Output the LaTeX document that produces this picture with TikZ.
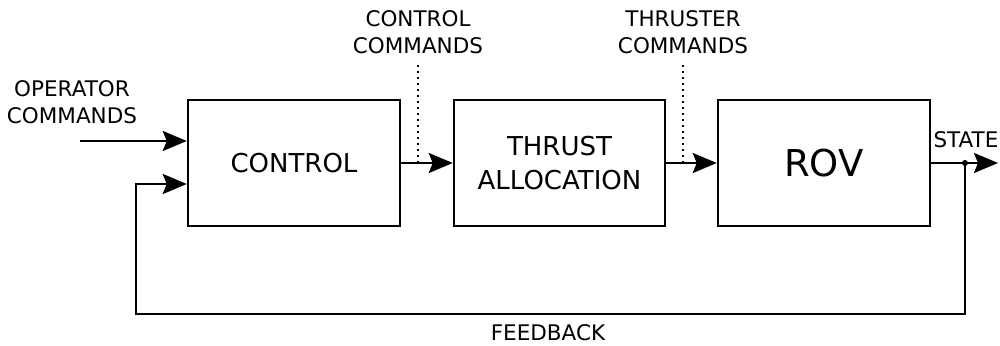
\documentclass[tikz,border=0pt]{standalone}
\usepackage{fontspec}
\setmainfont{DejaVu Sans}
\usetikzlibrary{arrows.meta}

\begin{document}
\begin{tikzpicture}[x=1pt, y=1pt, >={Stealth[length=24pt, width=20pt, inset=4pt]}]
	\tikzstyle{block}=[draw=black, line width=2.5pt, minimum width=212pt, minimum height=126pt, inner sep=0pt, align=center];
	\tikzstyle{lbl}=[font=\fontsize{21.5}{26.5}\selectfont, align=center, inner sep=0pt];
	\tikzstyle{flow}=[line width=2.5pt, ->];

	\useasboundingbox (0, 0) rectangle (1000, 345);

	\node (ctrl) at (294, 182) [block, font=\fontsize{26}{34}\selectfont] {CONTROL};
	\node (alloc) at (559.5, 182) [block, minimum width=211pt, font=\fontsize{26}{34}\selectfont] {THRUST\\ALLOCATION};
	\node (rov) at (824, 182) [block, font=\fontsize{37}{44}\selectfont] {ROV};

	\coordinate (opin) at (80, 204);
	\coordinate (out) at (998, 182);
	\coordinate (tap) at (965, 182);
	\coordinate (fbr) at (965, 31);
	\coordinate (fbl) at (136, 31);
	\coordinate (fbin) at (136, 161);
	\coordinate (cc) at (418, 280);
	\coordinate (tc) at (683, 280);

	\node (oplbl) at (72, 243) [lbl] {OPERATOR\\COMMANDS};
	\node (cclbl) at (418, 313) [lbl] {CONTROL\\COMMANDS};
	\node (tclbl) at (683, 313) [lbl] {THRUSTER\\COMMANDS};
	\node (statelbl) at (966, 205) [lbl] {STATE};
	\node (fblbl) at (548, 12) [lbl] {FEEDBACK};

	\draw[flow] (opin) -- (opin -| ctrl.west);
	\draw[flow] (ctrl) -- (alloc);
	\draw[flow] (alloc) -- (rov);
	\draw[flow] (rov) -- (out);
	\draw[flow] (tap) -- (fbr) -- (fbl) -- (fbin) -- (fbin -| ctrl.west);
	\fill (tap) circle (3pt);

	\draw[line width=1.6pt, dash pattern=on 1.6pt off 4.4pt] (cc) -- (cc |- ctrl.east);
	\draw[line width=1.6pt, dash pattern=on 1.6pt off 4.4pt] (tc) -- (tc |- ctrl.east);
\end{tikzpicture}
\end{document}
